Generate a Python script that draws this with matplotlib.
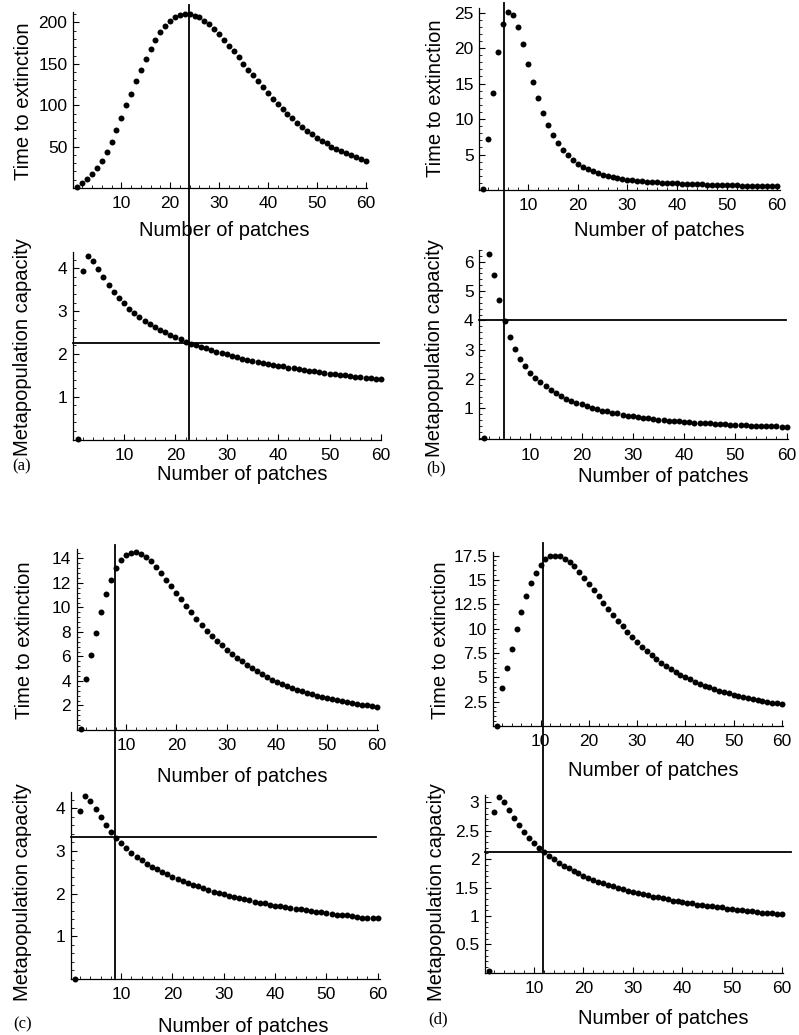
import matplotlib
matplotlib.use("Agg")
import matplotlib.pyplot as plt
from matplotlib.ticker import FixedLocator, MultipleLocator, FuncFormatter, AutoMinorLocator

plt.rcParams['font.family'] = ['Liberation Sans', 'DejaVu Sans']

# ---------------- data ----------------
patches = list(range(1, 61))
x_ticks = [10, 20, 30, 40, 50, 60]

time_a = [1, 6.5, 11, 16.5, 24, 33, 44, 56, 70, 85,
          100, 114, 129, 143, 156, 168, 179, 188, 196, 202,
          206, 209, 210, 210, 208, 206, 202, 198, 192, 186,
          179, 172, 165, 158, 150, 143, 136, 129, 122, 115,
          108, 102, 96, 90, 84, 79, 74, 69, 65, 61,
          57, 54, 50, 47.5, 45, 42, 40, 38, 35.5, 33]
cap_a = [0.02, 3.94, 4.29, 4.17, 3.98, 3.80, 3.61, 3.44, 3.30, 3.18,
         3.06, 2.96, 2.87, 2.78, 2.70, 2.63, 2.57, 2.51, 2.45, 2.40,
         2.34, 2.29, 2.24, 2.20, 2.17, 2.13, 2.09, 2.05, 2.02, 1.99,
         1.95, 1.92, 1.89, 1.87, 1.84, 1.81, 1.79, 1.77, 1.74, 1.72,
         1.71, 1.68, 1.67, 1.64, 1.63, 1.61, 1.59, 1.57, 1.56, 1.54,
         1.53, 1.51, 1.50, 1.49, 1.47, 1.46, 1.44, 1.43, 1.42, 1.42]
time_b = [0.1, 7.25, 13.6, 19.4, 23.4, 25.1, 24.7, 22.9, 20.5, 17.8,
          15.2, 12.9, 10.8, 9.1, 7.7, 6.6, 5.6, 4.9, 4.25, 3.7,
          3.25, 2.9, 2.65, 2.4, 2.15, 1.95, 1.8, 1.67, 1.53, 1.44,
          1.35, 1.25, 1.2, 1.15, 1.1, 1.06, 1.02, 0.98, 0.95, 0.92,
          0.89, 0.86, 0.83, 0.81, 0.78, 0.76, 0.74, 0.72, 0.70, 0.68,
          0.66, 0.64, 0.62, 0.61, 0.59, 0.58, 0.56, 0.55, 0.54, 0.52]
cap_b = [0.0, 6.25, 5.54, 4.68, 3.99, 3.45, 3.03, 2.70, 2.44, 2.22,
         2.03, 1.89, 1.75, 1.62, 1.52, 1.43, 1.34, 1.26, 1.20, 1.14,
         1.08, 1.02, 0.98, 0.93, 0.90, 0.86, 0.83, 0.79, 0.76, 0.74,
         0.71, 0.69, 0.67, 0.64, 0.62, 0.61, 0.59, 0.57, 0.56, 0.54,
         0.53, 0.52, 0.51, 0.50, 0.49, 0.48, 0.47, 0.46, 0.45, 0.44,
         0.43, 0.43, 0.42, 0.41, 0.41, 0.40, 0.39, 0.39, 0.38, 0.38]
time_c = [0.05, 4.2, 6.1, 7.95, 9.65, 11.1, 12.25, 13.2, 13.85, 14.25,
          14.45, 14.5, 14.35, 14.1, 13.75, 13.3, 12.8, 12.25, 11.75, 11.2,
          10.65, 10.1, 9.6, 9.05, 8.6, 8.1, 7.7, 7.3, 6.9, 6.55,
          6.2, 5.9, 5.6, 5.3, 5.05, 4.8, 4.55, 4.35, 4.1, 3.9,
          3.75, 3.6, 3.45, 3.3, 3.15, 3.05, 2.9, 2.8, 2.7, 2.6,
          2.5, 2.45, 2.35, 2.25, 2.2, 2.15, 2.08, 2.0, 1.92, 1.85]
cap_c = [0.01, 3.94, 4.30, 4.18, 3.98, 3.80, 3.61, 3.45, 3.30, 3.18,
         3.06, 2.96, 2.87, 2.78, 2.70, 2.63, 2.57, 2.51, 2.45, 2.40,
         2.34, 2.29, 2.24, 2.20, 2.17, 2.13, 2.09, 2.05, 2.02, 1.99,
         1.95, 1.92, 1.89, 1.87, 1.84, 1.81, 1.79, 1.77, 1.74, 1.72,
         1.71, 1.68, 1.67, 1.64, 1.63, 1.61, 1.59, 1.57, 1.56, 1.54,
         1.53, 1.51, 1.50, 1.49, 1.47, 1.46, 1.44, 1.43, 1.42, 1.42]
time_d = [0.05, 3.93, 5.94, 7.95, 9.92, 11.7, 13.3, 14.67, 15.76, 16.55,
          17.1, 17.43, 17.5, 17.43, 17.2, 16.85, 16.4, 15.85, 15.25, 14.63,
          14.0, 13.3, 12.65, 12.05, 11.4, 10.8, 10.25, 9.65, 9.15, 8.64,
          8.16, 7.72, 7.3, 6.9, 6.52, 6.18, 5.84, 5.57, 5.26, 5.02,
          4.78, 4.54, 4.34, 4.14, 3.96, 3.79, 3.62, 3.49, 3.35, 3.21,
          3.08, 2.98, 2.87, 2.77, 2.67, 2.57, 2.5, 2.4, 2.33, 2.23]
cap_d = [0.03, 2.83, 3.09, 3.0, 2.86, 2.73, 2.60, 2.48, 2.38, 2.29,
         2.20, 2.13, 2.06, 2.00, 1.94, 1.88, 1.84, 1.79, 1.75, 1.71,
         1.67, 1.64, 1.60, 1.58, 1.55, 1.52, 1.49, 1.47, 1.44, 1.42,
         1.40, 1.38, 1.36, 1.34, 1.33, 1.31, 1.29, 1.27, 1.26, 1.24,
         1.23, 1.22, 1.20, 1.19, 1.18, 1.17, 1.16, 1.15, 1.13, 1.12,
         1.11, 1.10, 1.09, 1.08, 1.07, 1.06, 1.05, 1.05, 1.03, 1.03]

yticks_time_a = [50, 100, 150, 200]
yticks_cap_a = [1, 2, 3, 4]
yticks_time_b = [5, 10, 15, 20, 25]
yticks_cap_b = [1, 2, 3, 4, 5, 6]
yticks_time_c = [2, 4, 6, 8, 10, 12, 14]
yticks_cap_c = [1, 2, 3, 4]
yticks_time_d = [2.5, 5, 7.5, 10, 12.5, 15, 17.5]
yticks_cap_d = [0.5, 1, 1.5, 2, 2.5, 3]

# threshold lines (vertical: number of patches, horizontal: capacity)
vline = {'a': 22.65, 'b': 4.96, 'c': 8.8, 'd': 11.9}
hline = {'a': 2.26, 'b': 4.0, 'c': 3.33, 'd': 2.13}

xlabel = "Number of patches"
ylabel_time = "Time to extinction"
ylabel_cap = "Metapopulation capacity"

# ---------------- layout ----------------
W, H = 799, 1035
fig = plt.figure(figsize=(W / 100, H / 100), dpi=100)


def rect(l, t, r, b):
    return [l / W, 1 - b / H, (r - l) / W, (b - t) / H]


fmt = FuncFormatter(lambda v, p: f"{v:g}")


def make_axes(r, xlim, ylim, yt, vals):
    ax = fig.add_axes(rect(*r))
    ax.plot(patches, vals, 'o', color='black', ms=4.3, mew=0, clip_on=False, zorder=3)
    ax.set_xlim(*xlim)
    ax.set_ylim(*ylim)
    ax.xaxis.set_major_locator(FixedLocator(x_ticks))
    ax.xaxis.set_minor_locator(MultipleLocator(2))
    ax.yaxis.set_major_locator(FixedLocator(yt))
    ax.yaxis.set_minor_locator(AutoMinorLocator(5))
    ax.xaxis.set_major_formatter(fmt)
    ax.yaxis.set_major_formatter(fmt)
    for s in ('top', 'right'):
        ax.spines[s].set_visible(False)
    for s in ('left', 'bottom'):
        ax.spines[s].set_linewidth(0.9)
    ax.tick_params(which='major', direction='in', length=4, width=0.8,
                   labelsize=12.5)
    ax.tick_params(axis='x', which='major', pad=6)
    ax.tick_params(axis='y', which='major', pad=4)
    ax.tick_params(which='minor', direction='in', length=2, width=0.6)
    ax.patch.set_alpha(0)
    return ax


panels = [
    ('a', (73, 11.7, 367, 188), (72.5, 251.7, 381, 439.5), (0.12, 60.28), (-0.01, 60.0),
     (0, 213), (0, 4.39), yticks_time_a, yticks_cap_a, time_a, cap_a, 2.314, 0.993),
    ('b', (479.3, 8.3, 780, 190), (479.3, 250, 788.3, 439.3), (0.2, 60.7), (0.08, 60.3),
     (0, 25.6), (-0.05, 6.4), yticks_time_b, yticks_cap_b, time_b, cap_b, 2.303, 0.992),
    ('c', (76.7, 549.3, 378.3, 730), (70.7, 791.7, 380, 979), (0.08, 60.3), (0.16, 60.45),
     (0, 14.74), (0, 4.39), yticks_time_c, yticks_cap_c, time_c, cap_c, 2.317, 0.986),
    ('d', (492.7, 551.7, 782.7, 726), (485, 795, 782.7, 972.7), (0.05, 60.2), (0.13, 60.24),
     (0, 17.9), (0.0, 3.13), yticks_time_d, yticks_cap_d, time_d, cap_d, 2.418, 1.027),
]

for (key, rt, rb, xlt, xlb, ylt, ylb, ytt, ytb, tv, cv, vtop, hxmax) in panels:
    axt = make_axes(rt, xlt, ylt, ytt, tv)
    axb = make_axes(rb, xlb, ylb, ytb, cv)
    axb.axvline(vline[key], ymin=0.005, ymax=vtop, color='black', lw=1.3,
                clip_on=False, zorder=4)
    axb.axhline(hline[key], xmin=0, xmax=hxmax, color='black', lw=1.3,
                clip_on=False, zorder=4)

# ---------------- texts ----------------
lab_fs = 14.5


def ftext(x, y, s, rot=0, fs=lab_fs, family=None):
    kw = {}
    if family:
        kw['family'] = family
    fig.text(x / W, 1 - y / H, s, ha='center', va='center', rotation=rot,
             fontsize=fs, **kw)


# y labels
ftext(24, 101, ylabel_time, 90)
ftext(23, 347, ylabel_cap, 90)
ftext(436, 98, ylabel_time, 90)
ftext(435, 348, ylabel_cap, 90)
ftext(25, 640, ylabel_time, 90)
ftext(23, 892, ylabel_cap, 90)
ftext(440, 640, ylabel_time, 90)
ftext(437, 892, ylabel_cap, 90)

# x labels
ftext(224, 230, xlabel)
ftext(242, 474, xlabel)
ftext(659, 231, xlabel)
ftext(663, 477, xlabel)
ftext(242, 776, xlabel)
ftext(243, 1026, xlabel)
ftext(653, 770, xlabel)
ftext(663, 1018, xlabel)

# panel letters
serif = ['Liberation Serif', 'DejaVu Serif']
ftext(22, 466, "(a)", fs=12, family=serif)
ftext(436, 468, "(b)", fs=12, family=serif)
ftext(23, 1024, "(c)", fs=12, family=serif)
ftext(438, 1019, "(d)", fs=12, family=serif)

fig.savefig("out.png", dpi=100)
